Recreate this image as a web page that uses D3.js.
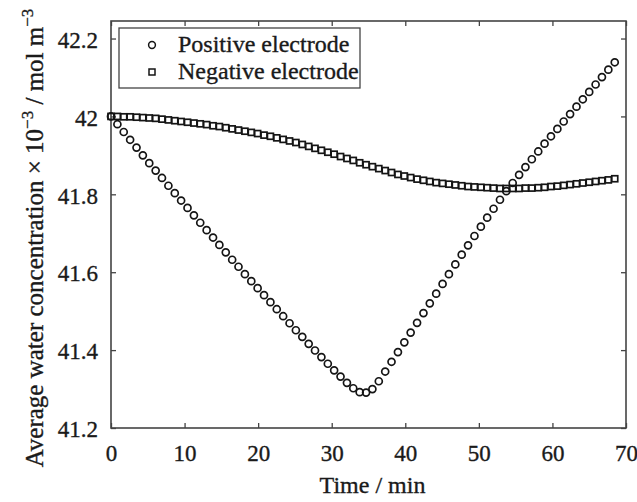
<!DOCTYPE html>
<html>
<head>
<meta charset="utf-8">
<script src="https://cdn.jsdelivr.net/npm/d3@7"></script>
<style>
  body { margin: 0; background: #fff; }
  svg text { font-family: "Liberation Serif", "Times New Roman", serif; fill: #1a1a1a; stroke: #1a1a1a; stroke-width: 0.35px; }
</style>
</head>
<body>
<div id="chart"></div>
<script>
///////////////////////////////////////////
// Data
///////////////////////////////////////////
var timeMin = [0, 0.87, 1.73, 2.6, 3.47, 4.33, 5.2, 6.07, 6.93, 7.8,
  8.67, 9.53, 10.4, 11.27, 12.13, 13, 13.87, 14.73, 15.6, 16.47,
  17.33, 18.2, 19.07, 19.93, 20.8, 21.67, 22.53, 23.4, 24.27, 25.13,
  26, 26.87, 27.73, 28.6, 29.47, 30.33, 31.2, 32.07, 32.93, 33.8,
  34.67, 35.53, 36.4, 37.27, 38.13, 39, 39.87, 40.73, 41.6, 42.47,
  43.33, 44.2, 45.07, 45.93, 46.8, 47.67, 48.53, 49.4, 50.27, 51.13,
  52, 52.87, 53.73, 54.6, 55.47, 56.33, 57.2, 58.07, 58.93, 59.8,
  60.67, 61.53, 62.4, 63.27, 64.13, 65, 65.87, 66.73, 67.6, 68.47];

var positiveElectrode = [42.000, 41.980, 41.960, 41.940, 41.920, 41.900, 41.880, 41.861, 41.842, 41.822,
  41.803, 41.784, 41.765, 41.746, 41.727, 41.708, 41.689, 41.670, 41.651, 41.632,
  41.614, 41.595, 41.577, 41.559, 41.541, 41.523, 41.505, 41.487, 41.469, 41.451,
  41.434, 41.416, 41.399, 41.382, 41.365, 41.348, 41.332, 41.316, 41.302, 41.292,
  41.291, 41.300, 41.320, 41.345, 41.370, 41.395, 41.420, 41.445, 41.470, 41.495,
  41.520, 41.545, 41.570, 41.595, 41.620, 41.645, 41.669, 41.693, 41.717, 41.740,
  41.763, 41.786, 41.808, 41.829, 41.850, 41.870, 41.890, 41.910, 41.930, 41.949,
  41.968, 41.987, 42.006, 42.025, 42.044, 42.063, 42.082, 42.101, 42.120, 42.139];

var negativeElectrode = [42.000, 42.000, 41.999, 41.999, 41.998, 41.997, 41.996, 41.995, 41.993, 41.991,
  41.989, 41.987, 41.985, 41.983, 41.981, 41.979, 41.976, 41.974, 41.971, 41.968,
  41.965, 41.962, 41.959, 41.956, 41.952, 41.949, 41.945, 41.941, 41.937, 41.933,
  41.928, 41.923, 41.918, 41.913, 41.908, 41.903, 41.897, 41.892, 41.887, 41.881,
  41.876, 41.871, 41.866, 41.861, 41.856, 41.851, 41.847, 41.843, 41.839, 41.836,
  41.833, 41.830, 41.828, 41.826, 41.824, 41.822, 41.820, 41.819, 41.818, 41.817,
  41.816, 41.815, 41.815, 41.815, 41.815, 41.816, 41.816, 41.817, 41.818, 41.820,
  41.821, 41.823, 41.825, 41.827, 41.829, 41.831, 41.833, 41.835, 41.837, 41.840];

var xTicks = [0, 10, 20, 30, 40, 50, 60, 70];
var yTicks = [41.2, 41.4, 41.6, 41.8, 42, 42.2];
var seriesNames = ["Positive electrode", "Negative electrode"];

///////////////////////////////////////////
// Layout
///////////////////////////////////////////
var width = 637, height = 502;
var margin = {top: 21, right: 11, bottom: 74, left: 111};
var w = width - margin.left - margin.right;
var h = height - margin.top - margin.bottom;
var ink = "#151515";
var tickFont = 23;
var labelFont = 24;

var svg = d3.select("#chart").append("svg")
  .attr("width", width)
  .attr("height", height);

var g = svg.append("g")
  .attr("transform", "translate(" + margin.left + "," + margin.top + ")");

var x = d3.scaleLinear().domain([0, 70]).range([0, w]);
var y = d3.scaleLinear().domain([41.2, 42.245]).range([h, 0]);

function fmtY(d) { return String(+d.toFixed(1)); }

// axes, ticks pointing inward on all four sides
var xAxis = g.append("g")
  .attr("transform", "translate(0," + h + ")")
  .call(d3.axisBottom(x).tickValues(xTicks).tickSizeInner(-5).tickSizeOuter(0).tickPadding(17));
var yAxis = g.append("g")
  .call(d3.axisLeft(y).tickValues(yTicks).tickFormat(fmtY).tickSizeInner(-5).tickSizeOuter(0).tickPadding(13));
var xTop = g.append("g")
  .call(d3.axisTop(x).tickValues(xTicks).tickFormat("").tickSizeInner(-5).tickSizeOuter(0));
var yRight = g.append("g")
  .attr("transform", "translate(" + w + ",0)")
  .call(d3.axisRight(y).tickValues(yTicks).tickFormat("").tickSizeInner(-5).tickSizeOuter(0));

[xAxis, yAxis, xTop, yRight].forEach(function(a) {
  a.select(".domain").remove();
  a.attr("font-family", null);
  a.selectAll("line").attr("stroke", "#444").attr("stroke-width", 1.3);
  a.selectAll("text").attr("font-size", tickFont).attr("fill", ink);
});
yAxis.selectAll("text").attr("dy", "0.38em");

// frame
g.append("rect")
  .attr("x", 0).attr("y", 0)
  .attr("width", w).attr("height", h)
  .attr("fill", "none")
  .attr("stroke", "#444")
  .attr("stroke-width", 1.6);

// axis titles
svg.append("text")
  .attr("x", margin.left + w / 2 + 4)
  .attr("y", 493)
  .attr("text-anchor", "middle")
  .attr("font-size", labelFont)
  .text("Time / min");

var yTitle = svg.append("text")
  .attr("transform", "translate(43,238) rotate(-90)")
  .attr("text-anchor", "middle")
  .attr("font-size", 25);
yTitle.append("tspan").text("Average water concentration \u00d7 10");
yTitle.append("tspan").attr("dy", -10).attr("font-size", 17).text("\u22123");
yTitle.append("tspan").attr("dy", 10).text(" / mol m");
yTitle.append("tspan").attr("dy", -10).attr("font-size", 17).text("\u22123");

///////////////////////////////////////////
// Markers
///////////////////////////////////////////
var posData = timeMin.map(function(t, i) { return [t, positiveElectrode[i]]; });
var negData = timeMin.map(function(t, i) { return [t, negativeElectrode[i]]; });

var sq = 6;
g.append("g").selectAll("rect")
  .data(negData)
  .enter().append("rect")
  .attr("x", function(d) { return x(d[0]) - sq / 2; })
  .attr("y", function(d) { return y(d[1]) - sq / 2; })
  .attr("width", sq).attr("height", sq)
  .attr("fill", "none")
  .attr("stroke", ink)
  .attr("stroke-width", 1.7);

g.append("g").selectAll("circle")
  .data(posData)
  .enter().append("circle")
  .attr("cx", function(d) { return x(d[0]); })
  .attr("cy", function(d) { return y(d[1]); })
  .attr("r", 3.5)
  .attr("fill", "none")
  .attr("stroke", ink)
  .attr("stroke-width", 1.7);

///////////////////////////////////////////
// Legend
///////////////////////////////////////////
var legend = svg.append("g").attr("transform", "translate(119,28)");
legend.append("rect")
  .attr("width", 241).attr("height", 60)
  .attr("fill", "#fff")
  .attr("stroke", "#444")
  .attr("stroke-width", 1.3);
legend.append("circle")
  .attr("cx", 33).attr("cy", 17).attr("r", 3.4)
  .attr("fill", "none").attr("stroke", ink).attr("stroke-width", 1.5);
legend.append("rect")
  .attr("x", 33 - 3).attr("y", 44 - 3).attr("width", 6).attr("height", 6)
  .attr("fill", "none").attr("stroke", ink).attr("stroke-width", 1.5);
legend.selectAll(".legText")
  .data(seriesNames)
  .enter().append("text")
  .attr("class", "legText")
  .attr("x", 59)
  .attr("y", function(d, i) { return 24 + i * 27; })
  .attr("font-size", labelFont)
  .text(function(d) { return d; });
</script>
</body>
</html>
